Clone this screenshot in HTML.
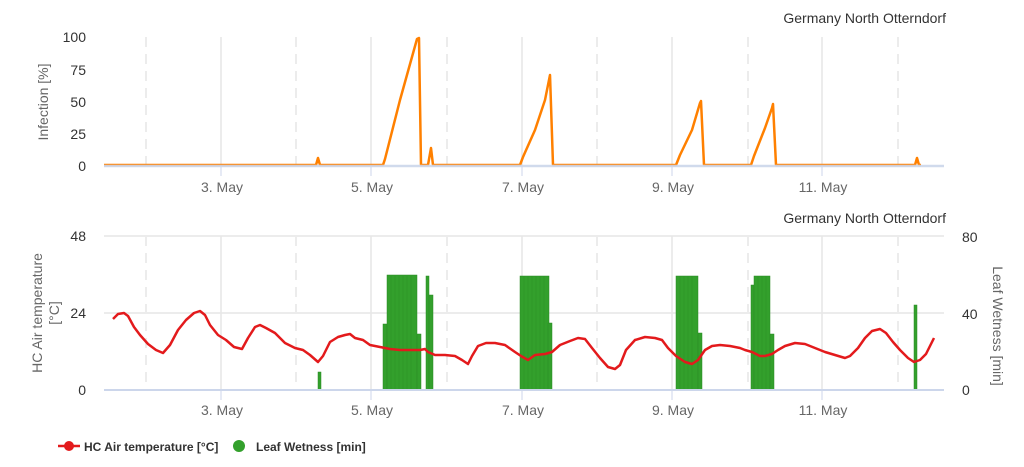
<!DOCTYPE html>
<html><head><meta charset="utf-8"><style>
html,body{margin:0;padding:0;background:#fff;}
svg{display:block;font-family:"Liberation Sans",Arial,sans-serif;}
</style></head><body>
<svg width="1024" height="467" viewBox="0 0 1024 467">
<!-- top chart grid -->
<g stroke="#e6e6e6" stroke-width="1.5">
<line x1="221" y1="37" x2="221" y2="166"/><line x1="371" y1="37" x2="371" y2="166"/><line x1="522" y1="37" x2="522" y2="166"/><line x1="672" y1="37" x2="672" y2="166"/><line x1="822" y1="37" x2="822" y2="166"/>
</g>
<g stroke="#ececec" stroke-width="2" stroke-dasharray="10,7">
<line x1="146" y1="37" x2="146" y2="166"/><line x1="296" y1="37" x2="296" y2="166"/><line x1="447" y1="37" x2="447" y2="166"/><line x1="597" y1="37" x2="597" y2="166"/><line x1="748" y1="37" x2="748" y2="166"/><line x1="898" y1="37" x2="898" y2="166"/>
</g>
<polyline fill="none" stroke="#ff8000" stroke-width="2.5" stroke-linejoin="round" points="104,165 316,165 318,158 320,165 383,165 385,159 400,100 417,39 419,38 421,165 428,165 431,148 433,165 520,165 523,157 535,130 545,100 550,75 553,165 676,165 680,155 692,130 700,103 701,101 704,165 751,165 754,156 765,128 772,108 773,104 776,165 915,165 917,158 919,165 921,165"/>
<line x1="104" y1="166" x2="944" y2="166" stroke="#ccd6eb" stroke-width="2.5" opacity="0.9"/>
<g stroke="#ccd6eb"><line x1="221" y1="166" x2="221" y2="176"/><line x1="371" y1="166" x2="371" y2="176"/><line x1="522" y1="166" x2="522" y2="176"/><line x1="672" y1="166" x2="672" y2="176"/><line x1="822" y1="166" x2="822" y2="176"/></g>
<text x="946" y="23" font-size="14" fill="#333" text-anchor="end">Germany North Otterndorf</text>
<g font-size="14" fill="#333" text-anchor="end">
<text x="86" y="42">100</text><text x="86" y="75">75</text><text x="86" y="107">50</text><text x="86" y="139">25</text><text x="86" y="171">0</text>
</g>
<text transform="translate(48,102) rotate(-90)" font-size="14" fill="#666" text-anchor="middle">Infection [%]</text>
<g font-size="14" fill="#666" text-anchor="middle">
<text x="222" y="192">3. May</text><text x="372" y="192">5. May</text><text x="523" y="192">7. May</text><text x="673" y="192">9. May</text><text x="823" y="192">11. May</text>
</g>

<!-- bottom chart grid -->
<g stroke="#e6e6e6" stroke-width="1.5">
<line x1="104" y1="236" x2="944" y2="236"/><line x1="104" y1="313" x2="944" y2="313"/>
<line x1="221" y1="236" x2="221" y2="390"/><line x1="371" y1="236" x2="371" y2="390"/><line x1="522" y1="236" x2="522" y2="390"/><line x1="672" y1="236" x2="672" y2="390"/><line x1="822" y1="236" x2="822" y2="390"/>
</g>
<g stroke="#ececec" stroke-width="2" stroke-dasharray="10,7">
<line x1="146" y1="236" x2="146" y2="390"/><line x1="296" y1="236" x2="296" y2="390"/><line x1="447" y1="236" x2="447" y2="390"/><line x1="597" y1="236" x2="597" y2="390"/><line x1="748" y1="236" x2="748" y2="390"/><line x1="898" y1="236" x2="898" y2="390"/>
</g>
<text x="946" y="223" font-size="14" fill="#333" text-anchor="end">Germany North Otterndorf</text>
<g font-size="14" fill="#333" text-anchor="end">
<text x="86" y="241">48</text><text x="86" y="318">24</text><text x="86" y="395">0</text>
</g>
<g font-size="14" fill="#333" text-anchor="start">
<text x="962" y="242">80</text><text x="962" y="319">40</text><text x="962" y="395">0</text>
</g>
<text transform="translate(42,313) rotate(-90)" font-size="14" fill="#666" text-anchor="middle">HC Air temperature</text>
<text transform="translate(59,313) rotate(-90)" font-size="14" fill="#666" text-anchor="middle">[°C]</text>
<text transform="translate(993,326) rotate(90)" font-size="14" fill="#666" text-anchor="middle">Leaf Wetness [min]</text>
<g font-size="14" fill="#666" text-anchor="middle">
<text x="222" y="415">3. May</text><text x="372" y="415">5. May</text><text x="523" y="415">7. May</text><text x="673" y="415">9. May</text><text x="823" y="415">11. May</text>
</g>
<!-- bars -->
<g fill="#33a02c" stroke="#2a8a24" stroke-width="0.5">
<rect x="318" y="372" width="3" height="18"/>
<rect x="383" y="324" width="4" height="66"/>
<rect x="387" y="275" width="30" height="115"/>
<rect x="417" y="334" width="4" height="56"/>
<rect x="426" y="276" width="3" height="114"/>
<rect x="429" y="295" width="4" height="95"/>
<rect x="520" y="276" width="29" height="114"/>
<rect x="548" y="323" width="4" height="67"/>
<rect x="676" y="276" width="22" height="114"/>
<rect x="698" y="333" width="4" height="57"/>
<rect x="751" y="285" width="3" height="105"/>
<rect x="754" y="276" width="16" height="114"/>
<rect x="770" y="334" width="4" height="56"/>
<rect x="914" y="305" width="3" height="85"/>
</g>
<g stroke="#2a8a24" stroke-width="0.6" opacity="0.6">
<line x1="391" y1="276" x2="391" y2="390"/><line x1="395" y1="276" x2="395" y2="390"/><line x1="399" y1="276" x2="399" y2="390"/><line x1="403" y1="276" x2="403" y2="390"/><line x1="407" y1="276" x2="407" y2="390"/><line x1="411" y1="276" x2="411" y2="390"/>
<line x1="524" y1="276" x2="524" y2="390"/><line x1="528" y1="276" x2="528" y2="390"/><line x1="532" y1="276" x2="532" y2="390"/><line x1="536" y1="276" x2="536" y2="390"/><line x1="540" y1="276" x2="540" y2="390"/><line x1="544" y1="276" x2="544" y2="390"/>
<line x1="680" y1="276" x2="680" y2="390"/><line x1="684" y1="276" x2="684" y2="390"/><line x1="688" y1="276" x2="688" y2="390"/><line x1="692" y1="276" x2="692" y2="390"/>
<line x1="758" y1="276" x2="758" y2="390"/><line x1="762" y1="276" x2="762" y2="390"/><line x1="766" y1="276" x2="766" y2="390"/>
</g>
<line x1="104" y1="390" x2="944" y2="390" stroke="#ccd6eb" stroke-width="2"/>
<g stroke="#ccd6eb"><line x1="221" y1="390" x2="221" y2="400"/><line x1="371" y1="390" x2="371" y2="400"/><line x1="522" y1="390" x2="522" y2="400"/><line x1="672" y1="390" x2="672" y2="400"/><line x1="822" y1="390" x2="822" y2="400"/></g>
<polyline fill="none" stroke="#e31a1c" stroke-width="2.5" stroke-linejoin="round" points="113,319 118,314 124,313 128,316 134,327 140,335 148,344 156,350 163,353 170,345 178,330 186,320 194,313 200,311 205,315 210,325 218,335 226,340 234,347 242,349 248,338 255,327 260,325 266,328 275,333 285,343 295,348 303,350 310,355 318,362 323,356 330,342 338,337 345,335 350,334 355,338 363,340 370,345 380,347 390,349 400,350 410,350 420,350 425,349 428,352 435,355 445,355 455,356 462,360 468,364 472,356 478,346 486,343 495,343 505,345 515,352 521,356 528,360 535,355 545,354 552,352 560,345 570,341 578,338 585,339 592,348 600,358 608,367 615,369 620,365 626,350 635,340 645,337 655,338 662,340 668,348 676,356 685,362 692,364 698,360 705,350 712,346 720,345 730,346 740,348 745,350 752,352 760,356 765,356 772,354 778,350 785,346 795,343 805,344 815,348 825,352 835,355 845,358 850,356 858,348 865,338 872,331 880,329 886,333 893,342 900,350 908,358 914,362 920,360 926,354 934,338"/>

<!-- legend -->
<line x1="58" y1="446" x2="80" y2="446" stroke="#e31a1c" stroke-width="2.5"/>
<circle cx="69" cy="446" r="5" fill="#e31a1c"/>
<text x="84" y="451" font-size="12" font-weight="bold" fill="#333">HC Air temperature [°C]</text>
<circle cx="239" cy="446" r="6" fill="#33a02c"/>
<text x="256" y="451" font-size="12" font-weight="bold" fill="#333">Leaf Wetness [min]</text>
</svg>
</body></html>
